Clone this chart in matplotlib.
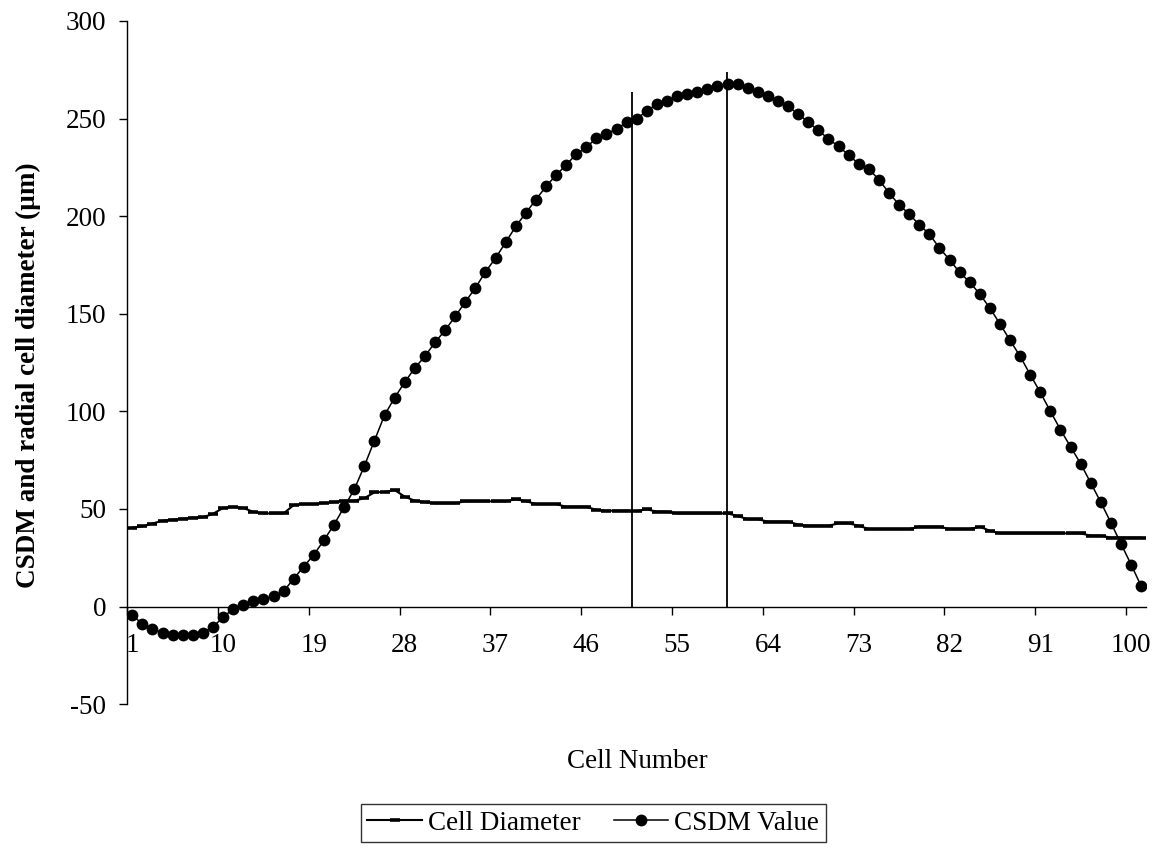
import numpy as np
import matplotlib
matplotlib.use('Agg')
import matplotlib.pyplot as plt

plt.rcParams['font.family'] = ['Liberation Serif', 'DejaVu Serif']
plt.rcParams['axes.unicode_minus'] = False

# values, cell 1..101
cell_number = list(range(1, 102))

cell_diameter = [
    40.4, 41.0, 42.5, 44.0, 44.5, 45.0, 45.5, 45.7, 47.5, 50.5,
    51.0, 50.5, 48.5, 47.7, 47.7, 47.7, 52.0, 52.5, 52.5, 53.0,
    53.5, 54.2, 54.2, 55.5, 58.5, 58.7, 59.7, 56.3, 54.2, 53.5,
    52.9, 52.9, 52.9, 53.9, 53.9, 53.9, 53.9, 53.9, 54.9, 54.0,
    52.5, 52.5, 52.5, 51.1, 51.1, 51.1, 49.5, 49.1, 49.1, 49.1,
    48.9, 49.8, 48.6, 48.6, 47.7, 47.7, 47.7, 47.7, 47.7, 47.7,
    46.4, 44.7, 44.7, 43.5, 43.5, 43.5, 42.0, 41.4, 41.4, 41.4,
    42.6, 42.6, 41.4, 39.7, 39.7, 39.7, 39.7, 39.7, 40.9, 40.9,
    40.9, 39.7, 39.7, 39.7, 40.9, 38.8, 37.5, 37.5, 37.5, 37.5,
    37.5, 37.5, 37.5, 37.5, 37.5, 36.3, 36.3, 35.3, 35.3, 35.3,
    35.3,
]

csdm_value = [
    -4.1, -9.2, -11.3, -13.5, -14.7, -14.7, -14.7, -13.5, -10.4, -5.5,
    -1.2, 1.0, 2.7, 3.9, 5.3, 7.8, 14.3, 20.5, 26.6, 34.0,
    42.0, 51.0, 60.0, 72.0, 85.0, 98.0, 107.0, 114.9, 122.2, 128.2,
    135.3, 141.5, 148.6, 156.0, 163.2, 171.4, 178.5, 186.5, 194.7, 201.6,
    208.4, 215.2, 221.0, 226.2, 231.8, 235.2, 240.0, 242.0, 244.8, 248.0,
    249.8, 254.0, 257.4, 259.2, 261.3, 262.5, 263.5, 265.2, 266.8, 267.6,
    267.6, 265.6, 263.5, 261.3, 259.2, 256.2, 252.3, 248.2, 243.9, 239.6,
    235.7, 231.4, 226.7, 224.3, 218.6, 212.0, 205.8, 201.1, 195.6, 190.8,
    183.7, 177.7, 171.2, 166.2, 160.1, 152.9, 144.8, 136.4, 128.2, 118.8,
    109.7, 100.0, 90.6, 81.8, 73.2, 63.3, 53.4, 42.9, 32.1, 21.5,
    10.4,
]

# two vertical marker lines (x position, top value)
vline_x = [50.5, 59.9]
vline_top = [263.5, 274.0]

x_labels = [1, 10, 19, 28, 37, 46, 55, 64, 73, 82, 91, 100]
y_ticks = [-50, 0, 50, 100, 150, 200, 250, 300]

FS = 19.5


def draw():
    fig = plt.figure(figsize=(11.59, 8.59), dpi=100)
    ax = fig.add_axes([0.1098, 0.1803, 0.8792, 0.7953])

    ax.plot(cell_number, cell_diameter, color='black', lw=1.5,
            marker='_', markersize=6.5, markeredgewidth=2.6,
            label='Cell Diameter', zorder=3)
    ax.plot(cell_number, csdm_value, color='black', lw=1.1,
            marker='o', markersize=8.5, markeredgewidth=0,
            label='CSDM Value', zorder=4)
    ax.vlines(vline_x, 0, vline_top, color='black', lw=1.3, zorder=2)

    ax.set_xlim(0.5, 101.5)
    ax.set_ylim(-50, 300)

    for s in ['top', 'right']:
        ax.spines[s].set_visible(False)
    ax.spines['bottom'].set_position(('data', 0))
    ax.spines['bottom'].set_linewidth(1.0)
    ax.spines['left'].set_linewidth(1.0)

    ax.set_xticks(x_labels)
    ax.set_xticklabels([str(v) for v in x_labels], fontsize=FS)
    ax.set_xticks([v - 0.5 for v in x_labels], minor=True)
    ax.tick_params(axis='x', which='major', length=0, pad=19)
    ax.tick_params(axis='x', which='minor', length=6, direction='out', width=1.0)

    ax.set_yticks(y_ticks)
    ax.set_yticklabels([str(v) for v in y_ticks], fontsize=FS)
    ax.tick_params(axis='y', length=6, direction='out', width=1.0, pad=9)

    fig.text(637 / 1159, 1 - 762 / 859, 'Cell Number', fontsize=FS,
             ha='center', va='center')
    fig.text(28 / 1159, 1 - 375 / 859, 'CSDM and radial cell diameter (µm)',
             fontsize=FS, fontweight='bold', rotation=90,
             ha='center', va='center')

    leg = fig.legend(loc='center', bbox_to_anchor=(0.512, 1 - 823 / 859),
                     ncol=2, fontsize=FS, frameon=True, fancybox=False,
                     handlelength=2.0, columnspacing=1.2, handletextpad=0.25,
                     borderpad=0.25)
    leg.get_frame().set_edgecolor('black')
    leg.get_frame().set_linewidth(1.0)

    fig.savefig('out.png', dpi=100)


if __name__ == '__main__':
    draw()
